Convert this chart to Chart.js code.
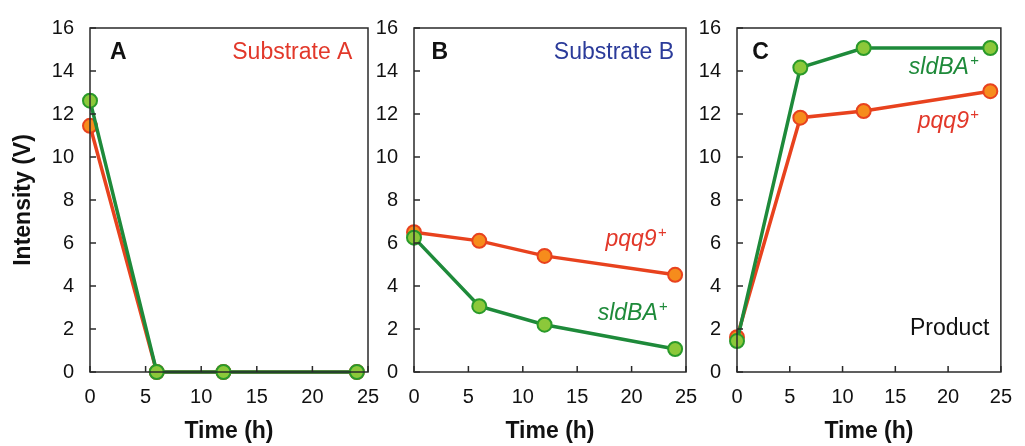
<!DOCTYPE html>
<html lang="en">
<head>
<meta charset="UTF-8">
<title>Substrate / Product time course</title>
<script src="https://cdn.jsdelivr.net/npm/chart.js"></script>
<style>
  body { margin: 0; background: #fff; }
  #wrap { position: relative; width: 1025px; height: 446px; }
  #wrap canvas { position: absolute; left: 0; top: 0; }
</style>
</head>
<body>
<div id="wrap">
  <canvas id="chartA" width="1025" height="446"></canvas>
  <canvas id="chartB" width="1025" height="446"></canvas>
  <canvas id="chartC" width="1025" height="446"></canvas>
</div>
<script>
// sampling times (h)
const timeH = [0, 6, 12, 24];
const xTicks = [0, 5, 10, 15, 20, 25];
const yTicks = [0, 2, 4, 6, 8, 10, 12, 14, 16];

// intensity (V)
const subA_pqq9 = [11.45, 0, 0, 0];
const subA_sldBA = [12.62, 0, 0, 0];
const subB_pqq9 = [6.5, 6.1, 5.4, 4.52];
const subB_sldBA = [6.25, 3.06, 2.2, 1.07];
const prod_pqq9 = [1.62, 11.83, 12.14, 13.06];
const prod_sldBA = [1.44, 14.16, 15.07, 15.07];

const FONT = "'Liberation Sans', Arial, sans-serif";
const ORANGE_LINE = '#e8421e';
const ORANGE_FILL = '#f68c1c';
const GREEN_LINE = '#1e8a3a';
const GREEN_FILL = '#8cc83a';

function pts(vals) {
    return timeH.map((t, i) => ({ x: t, y: vals[i] }));
}

function series(vals, line, fill, border) {
    return {
        data: pts(vals),
        borderColor: line,
        borderWidth: 3.5,
        pointRadius: 7,
        pointBorderWidth: 2,
        pointBackgroundColor: fill,
        pointBorderColor: border,
        tension: 0,
        clip: false
    };
}

// frame box + inward tick marks + text notes
const framePlugin = {
    id: 'frame',
    afterDatasetsDraw(chart, args, opts) {
        const { ctx, chartArea: a, scales } = chart;
        ctx.save();
        ctx.strokeStyle = '#2a2a2a';
        ctx.lineWidth = 1.5;
        ctx.strokeRect(a.left, a.top, a.right - a.left, a.bottom - a.top);
        ctx.beginPath();
        yTicks.forEach(v => {
            const y = scales.y.getPixelForValue(v);
            ctx.moveTo(a.left, y);
            ctx.lineTo(a.left + 6, y);
        });
        xTicks.forEach(v => {
            const x = scales.x.getPixelForValue(v);
            ctx.moveTo(x, a.bottom);
            ctx.lineTo(x, a.bottom - 6);
        });
        ctx.stroke();

        (opts.notes || []).forEach(n => {
            const x = scales.x.getPixelForValue(n.x);
            const y = scales.y.getPixelForValue(n.y);
            ctx.fillStyle = n.color;
            ctx.textBaseline = 'middle';
            ctx.font = n.font;
            const w = ctx.measureText(n.text).width;
            let sw = 0;
            const supFont = n.font.replace(/\d+px/, '15px');
            if (n.sup) {
                ctx.font = supFont;
                sw = ctx.measureText(n.sup).width + 1;
            }
            const x0 = n.align === 'right' ? x - w - sw : x;
            ctx.font = n.font;
            ctx.textAlign = 'left';
            ctx.fillText(n.text, x0, y);
            if (n.sup) {
                ctx.font = supFont;
                ctx.fillText(n.sup, x0 + w + 1, y - 7);
            }
        });
        ctx.restore();
    }
};

function makeChart(id, dsets, cfg) {
    return new Chart(document.getElementById(id), {
        type: 'line',
        data: { datasets: dsets },
        plugins: [framePlugin],
        options: {
            responsive: false,
            animation: false,
            layout: { padding: { left: cfg.padL, right: cfg.padR, top: 23, bottom: 0 } },
            plugins: {
                legend: { display: false },
                tooltip: { enabled: false },
                frame: { notes: cfg.notes }
            },
            scales: {
                x: {
                    type: 'linear',
                    min: 0, max: 25,
                    afterBuildTicks: s => { s.ticks = xTicks.map(v => ({ value: v })); },
                    afterFit: s => { s.height = 74; },
                    grid: { display: false, drawTicks: false },
                    border: { display: false },
                    ticks: { padding: 13, color: '#111', font: { family: FONT, size: 20 }, maxRotation: 0 },
                    title: { display: true, text: 'Time (h)', color: '#111', padding: { top: 0, bottom: 1 },
                             font: { family: FONT, size: 23, weight: 'bold' } }
                },
                y: {
                    min: 0, max: 16,
                    afterBuildTicks: s => { s.ticks = yTicks.map(v => ({ value: v })); },
                    afterFit: s => { s.width = cfg.yW; },
                    grid: { display: false, drawTicks: false },
                    border: { display: false },
                    ticks: { padding: 16, color: '#111', font: { family: FONT, size: 20 } },
                    title: { display: cfg.yTitle, text: 'Intensity (V)', color: '#111', padding: { top: 10, bottom: 0 },
                             font: { family: FONT, size: 23, weight: 'bold' } }
                }
            }
        }
    });
}

const bold = `bold 23px ${FONT}`;
const plain = `23px ${FONT}`;
const ital = `italic 23px ${FONT}`;

makeChart('chartA', [
    series(subA_sldBA, GREEN_LINE, GREEN_FILL, '#2a9a2a'),
    series(subA_pqq9, ORANGE_LINE, ORANGE_FILL, ORANGE_LINE)
], {
    padL: 0, padR: 657, yW: 90, yTitle: true,
    notes: [
        { text: 'A', x: 1.8, y: 14.86, color: '#111', font: bold },
        { text: 'Substrate A', x: 23.6, y: 14.86, color: '#e2382a', font: plain, align: 'right' }
    ]
});

makeChart('chartB', [
    series(subB_sldBA, GREEN_LINE, GREEN_FILL, '#2a9a2a'),
    series(subB_pqq9, ORANGE_LINE, ORANGE_FILL, ORANGE_LINE)
], {
    padL: 374, padR: 339, yW: 40, yTitle: false,
    notes: [
        { text: 'B', x: 1.6, y: 14.86, color: '#111', font: bold },
        { text: 'Substrate B', x: 23.9, y: 14.86, color: '#2b3b9a', font: plain, align: 'right' },
        { text: 'pqq9', sup: '+', x: 23.2, y: 6.15, color: '#e2382a', font: ital, align: 'right' },
        { text: 'sldBA', sup: '+', x: 23.3, y: 2.7, color: '#1e8a3a', font: ital, align: 'right' }
    ]
});

makeChart('chartC', [
    series(prod_sldBA, GREEN_LINE, GREEN_FILL, '#2a9a2a'),
    series(prod_pqq9, ORANGE_LINE, ORANGE_FILL, ORANGE_LINE)
], {
    padL: 697, padR: 15, yW: 40, yTitle: false,
    notes: [
        { text: 'C', x: 1.45, y: 14.86, color: '#111', font: bold },
        { text: 'sldBA', sup: '+', x: 22.9, y: 14.17, color: '#1e8a3a', font: ital, align: 'right' },
        { text: 'pqq9', sup: '+', x: 22.9, y: 11.65, color: '#e2382a', font: ital, align: 'right' },
        { text: 'Product', x: 23.9, y: 2.02, color: '#111', font: plain, align: 'right' }
    ]
});
</script>
</body>
</html>
